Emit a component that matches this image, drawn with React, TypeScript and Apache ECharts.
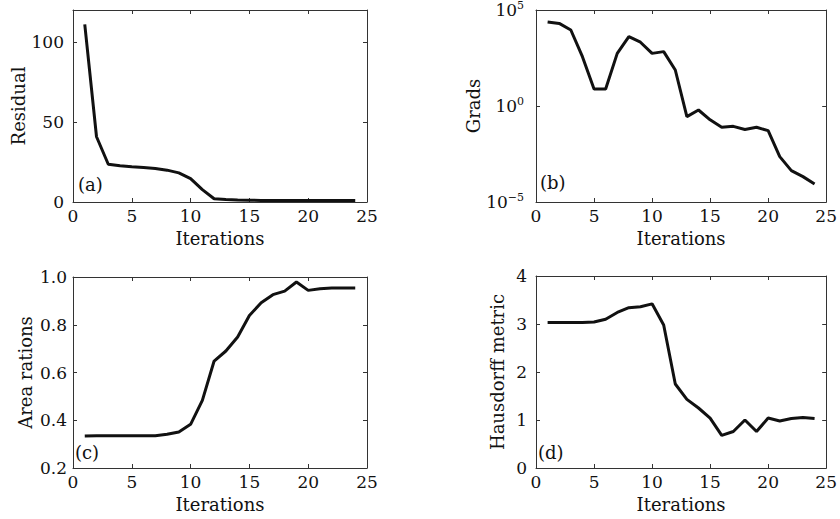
import React, { useEffect, useRef } from "react";
import * as echarts from "echarts";

const iterations = [1, 2, 3, 4, 5, 6, 7, 8, 9, 10, 11, 12, 13, 14, 15, 16, 17, 18, 19, 20, 21, 22, 23, 24];
const residual = [111, 40.8, 23.6, 22.6, 22, 21.5, 21, 19.9, 18.2, 14.6, 7.7, 2.0, 1.5, 1.2, 1.1, 1.0, 1.0, 1.0, 1.0, 1.0, 1.0, 1.0, 1.0, 1.0];
const grads = [
  2.4e4, 2.0e4, 9.1e3, 3.7e2, 7.7, 7.7, 5.5e2, 4.1e3, 2.1e3, 5.5e2, 6.8e2, 7.5e1,
  2.8e-1, 6.2e-1, 1.9e-1, 7.8e-2, 8.7e-2, 6.0e-2, 7.8e-2, 5.2e-2, 2.3e-3, 4.3e-4, 2.1e-4, 8.7e-5,
];
const areaRatios = [0.334, 0.335, 0.335, 0.335, 0.335, 0.335, 0.335, 0.341, 0.351, 0.383, 0.483, 0.648, 0.69, 0.749, 0.839, 0.892, 0.926, 0.941, 0.979, 0.944, 0.951, 0.954, 0.954, 0.954];
const hausdorff = [3.03, 3.03, 3.03, 3.03, 3.04, 3.1, 3.24, 3.34, 3.36, 3.42, 2.98, 1.75, 1.43, 1.25, 1.04, 0.68, 0.76, 1.0, 0.76, 1.04, 0.98, 1.03, 1.05, 1.03];

const xTicks = [0, 5, 10, 15, 20, 25];
const residualTicks = [0, 50, 100];
const panelLabels = ["(a)", "(b)", "(c)", "(d)"];
const yNames = ["Residual", "Grads", "Area rations", "Hausdorff metric"];
const xName = "Iterations";

const FONT = "DejaVu Serif";

export default function App() {
  const ref = useRef<HTMLDivElement>(null);
  useEffect(() => {
    if (!ref.current) return;
    const chart = echarts.init(ref.current, null, { renderer: "svg" });

    const grids = [
      { left: 73, top: 10, width: 294, height: 192 },
      { left: 536, top: 10, width: 292, height: 192 },
      { left: 73, top: 277, width: 294, height: 191 },
      { left: 536, top: 276, width: 292, height: 192 },
    ];

    const lineCol = "#333";
    const axisLine = { show: true, onZero: false, lineStyle: { color: lineCol, width: 1 } };
    const tick = { show: true, inside: true, length: 4, lineStyle: { color: lineCol } };
    const labelBase = { color: "#111", fontFamily: FONT, fontSize: 17 };
    const nameStyle = { color: "#111", fontFamily: FONT, fontSize: 18 };

    const xAxes: any[] = [];
    const yAxes: any[] = [];
    const yNameGaps = [46, 44, 39, 30];
    const yMargins = [9, 12, 6, 9];

    const yCfgs: any[] = [
      { type: "value", min: 0, max: 120, interval: 50 },
      { type: "log", min: 1e-5, max: 1e5, logBase: 10, interval: 5 },
      { type: "value", min: 0.2, max: 1.0, interval: 0.2 },
      { type: "value", min: 0, max: 4, interval: 1 },
    ];

    grids.forEach((_, i) => {
      xAxes.push({
        gridIndex: i,
        type: "value",
        min: 0,
        max: 25,
        interval: 5,
        position: "bottom",
        axisLine,
        axisTick: tick,
        splitLine: { show: false },
        axisLabel: { ...labelBase, margin: 5, formatter: (v: number) => (xTicks.includes(v) ? String(v) : "") },
        name: xName,
        nameLocation: "middle",
        nameGap: 27,
        nameTextStyle: nameStyle,
      });
      xAxes.push({
        gridIndex: i,
        type: "value",
        min: 0,
        max: 25,
        interval: 5,
        position: "top",
        axisLine,
        axisTick: tick,
        splitLine: { show: false },
        axisLabel: { show: false },
      });
      const yc = yCfgs[i];
      const isLog = yc.type === "log";
      yAxes.push({
        gridIndex: i,
        ...yc,
        position: "left",
        axisLine,
        axisTick: tick,
        minorTick: { show: false },
        splitLine: { show: false },
        axisLabel: {
          ...labelBase,
          margin: yMargins[i],
          formatter: isLog
            ? (v: number) => {
                const e = Math.round(Math.log10(v));
                return `{b|10}{s|${e < 0 ? "\u2212" + Math.abs(e) : e}}`;
              }
            : (v: number) =>
                i === 2 ? v.toFixed(1) : i === 0 ? (residualTicks.includes(v) ? String(v) : "") : String(v),
          rich: isLog
            ? {
                b: { fontFamily: FONT, fontSize: 17, color: "#111" },
                s: { fontFamily: FONT, fontSize: 11, color: "#111", padding: [0, 0, 9, 0] },
              }
            : undefined,
        },
        name: yNames[i],
        nameLocation: "middle",
        nameGap: yNameGaps[i],
        nameRotate: 90,
        nameTextStyle: nameStyle,
      });
      yAxes.push({
        gridIndex: i,
        ...yc,
        position: "right",
        axisLine,
        axisTick: tick,
        minorTick: { show: false },
        splitLine: { show: false },
        axisLabel: { show: false },
      });
    });

    const datasets = [residual, grads, areaRatios, hausdorff];
    const series = datasets.map((d, i) => ({
      type: "line",
      xAxisIndex: i * 2,
      yAxisIndex: i * 2,
      data: iterations.map((x, j) => [x, d[j]]),
      showSymbol: false,
      symbol: "none",
      lineStyle: { color: "#111", width: 3 },
      silent: true,
    }));

    const labelPos = [
      { left: 78, top: 175 },
      { left: 540, top: 173 },
      { left: 75, top: 443 },
      { left: 538, top: 443 },
    ];
    const graphic = panelLabels.map((t, i) => ({
      type: "text",
      left: labelPos[i].left,
      top: labelPos[i].top,
      style: { text: t, fontFamily: FONT, fontSize: 18, fill: "#111" },
    }));

    chart.setOption({
      animation: false,
      backgroundColor: "#fff",
      grid: grids,
      xAxis: xAxes,
      yAxis: yAxes,
      series,
      graphic,
    });

    return () => chart.dispose();
  }, []);

  return (
    <div
      ref={ref}
      style={{ position: "fixed", left: 0, top: 0, width: 840, height: 519, background: "#fff" }}
    />
  );
}
